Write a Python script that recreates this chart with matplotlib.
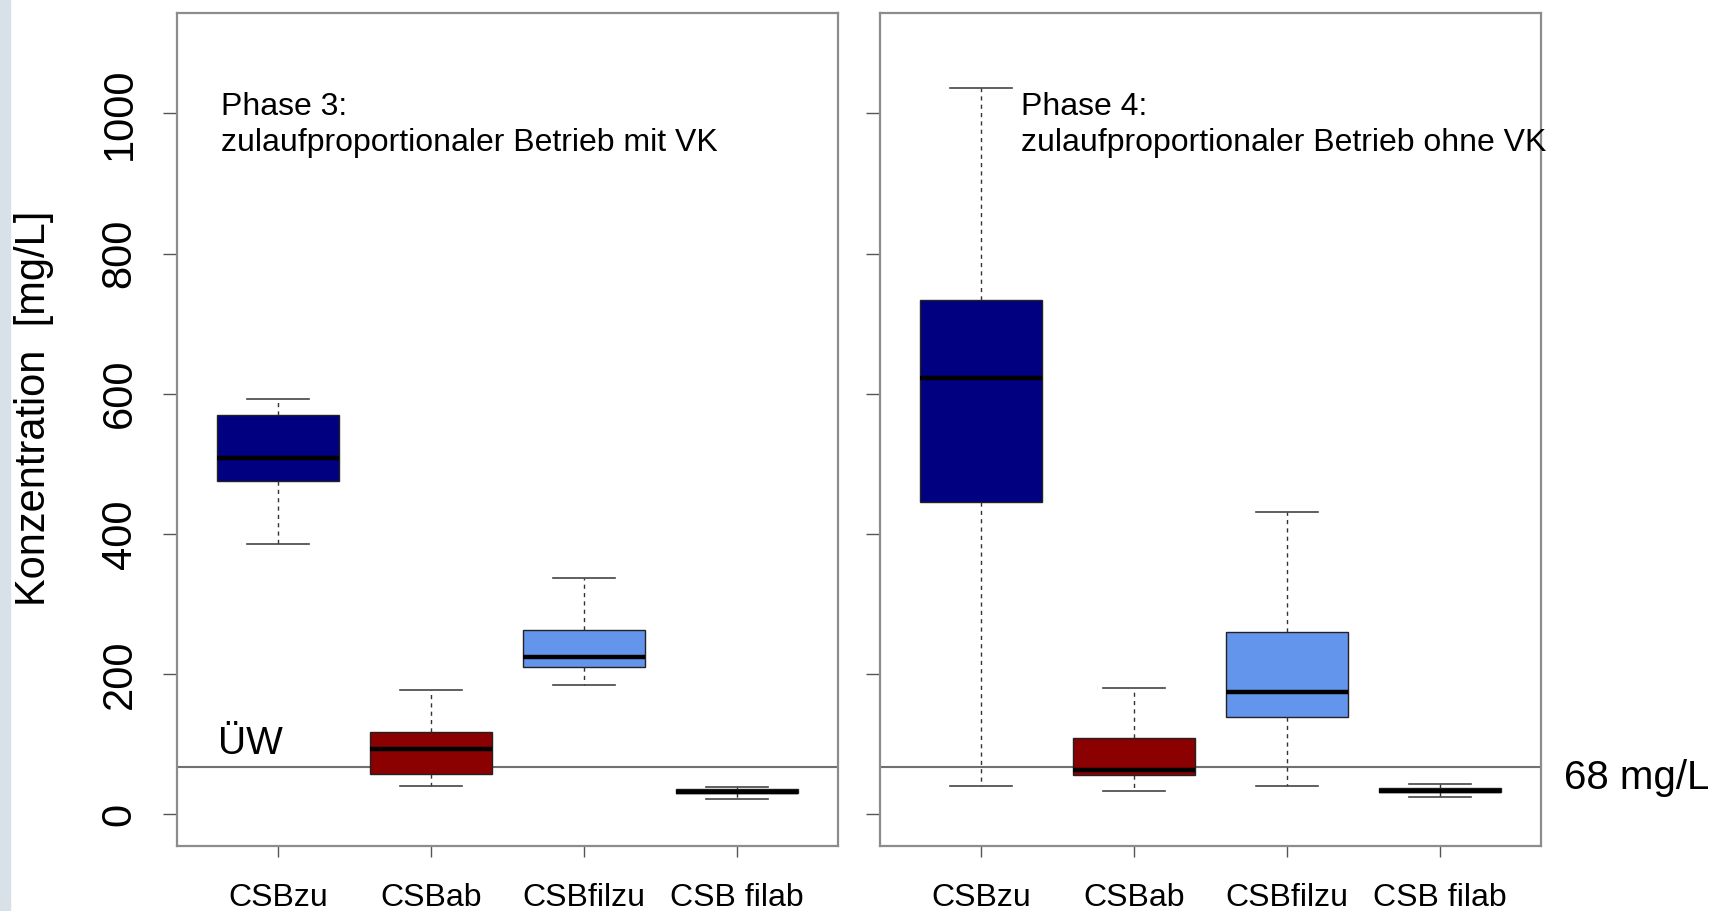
import matplotlib
matplotlib.use("Agg")
import matplotlib.pyplot as plt
from matplotlib.patches import Rectangle

plt.rcParams['font.family'] = ['Liberation Sans', 'DejaVu Sans']

# categories
cats = ["CSBzu", "CSBab", "CSBfilzu", "CSB filab"]
colors = ["#000080", "#8B0000", "#6495ED", "#d9d9d9"]

# Phase 3
p3_lo = [386, 40, 184, 22]
p3_q1 = [475, 58, 210, 30]
p3_med = [508, 94, 224, 32]
p3_q3 = [569, 118, 263, 36]
p3_hi = [592, 178, 337, 39]

# Phase 4
p4_lo = [40, 33, 41, 25]
p4_q1 = [445, 56, 139, 32]
p4_med = [622, 64, 175, 34]
p4_q3 = [734, 109, 260, 38]
p4_hi = [1036, 180, 431, 43]

limit = 68
yticks = [0, 200, 400, 600, 800, 1000]


def make_stats(lo, q1, med, q3, hi):
    return [dict(whislo=a, q1=b, med=c, q3=d, whishi=e, fliers=[], label=n)
            for a, b, c, d, e, n in zip(lo, q1, med, q3, hi, cats)]


fig = plt.figure(figsize=(17.19, 9.11), dpi=100)
fig.patches.append(Rectangle((0, 0), 10 / 1719, 1, transform=fig.transFigure,
                             color="#d8e0e8", zorder=0))

ax1 = fig.add_axes([177 / 1719, (911 - 846) / 911, (838 - 177) / 1719, (846 - 13) / 911])
ax2 = fig.add_axes([880 / 1719, (911 - 846) / 911, (1541 - 880) / 1719, (846 - 13) / 911])

for ax, st in [(ax1, make_stats(p3_lo, p3_q1, p3_med, p3_q3, p3_hi)),
               (ax2, make_stats(p4_lo, p4_q1, p4_med, p4_q3, p4_hi))]:
    bp = ax.bxp(st, widths=0.8, capwidths=0.4, patch_artist=True, showfliers=False,
                boxprops=dict(edgecolor="#222222", linewidth=1.0),
                medianprops=dict(color="black", linewidth=3.2),
                whiskerprops=dict(color="#333333", linestyle=(0, (3, 3)), linewidth=1.0),
                capprops=dict(color="#444444", linewidth=1.2))
    for patch, c in zip(bp['boxes'], colors):
        patch.set_facecolor(c)
    ax.axhline(limit, color="#707070", linewidth=1.5, zorder=1)
    ax.set_xlim(0.34, 4.66)
    ax.set_ylim(-45, 1143)
    ax.set_yticks(yticks)
    for s in ax.spines.values():
        s.set_color("#8c8c8c")
        s.set_linewidth(1.6)
    ax.tick_params(axis='x', length=8, width=1, color="#555555", pad=19, labelsize=23)
    ax.tick_params(axis='y', length=10, width=1, color="#555555")

ax1.set_yticklabels([str(v) for v in yticks], rotation=90, va='center', fontsize=30)
ax1.tick_params(axis='y', pad=17)
ax2.set_yticklabels([])

fig.text(34 / 1719, 1 - 408 / 911, "Konzentration  [mg/L]", rotation=90,
         ha='center', va='center', fontsize=30)

ax1.text(0.63, 1030, "Phase 3:\nzulaufproportionaler Betrieb mit VK",
         ha='left', va='top', fontsize=23, linespacing=1.25)
ax2.text(1.26, 1030, "Phase 4:\nzulaufproportionaler Betrieb ohne VK",
         ha='left', va='top', fontsize=23, linespacing=1.25)
ax1.text(0.61, 86, "ÜW", ha='left', va='baseline', fontsize=28)
ax2.text(1.035, 52, "68 mg/L", transform=ax2.get_yaxis_transform(),
         ha='left', va='center', fontsize=29)

fig.savefig("out.png", dpi=100)
